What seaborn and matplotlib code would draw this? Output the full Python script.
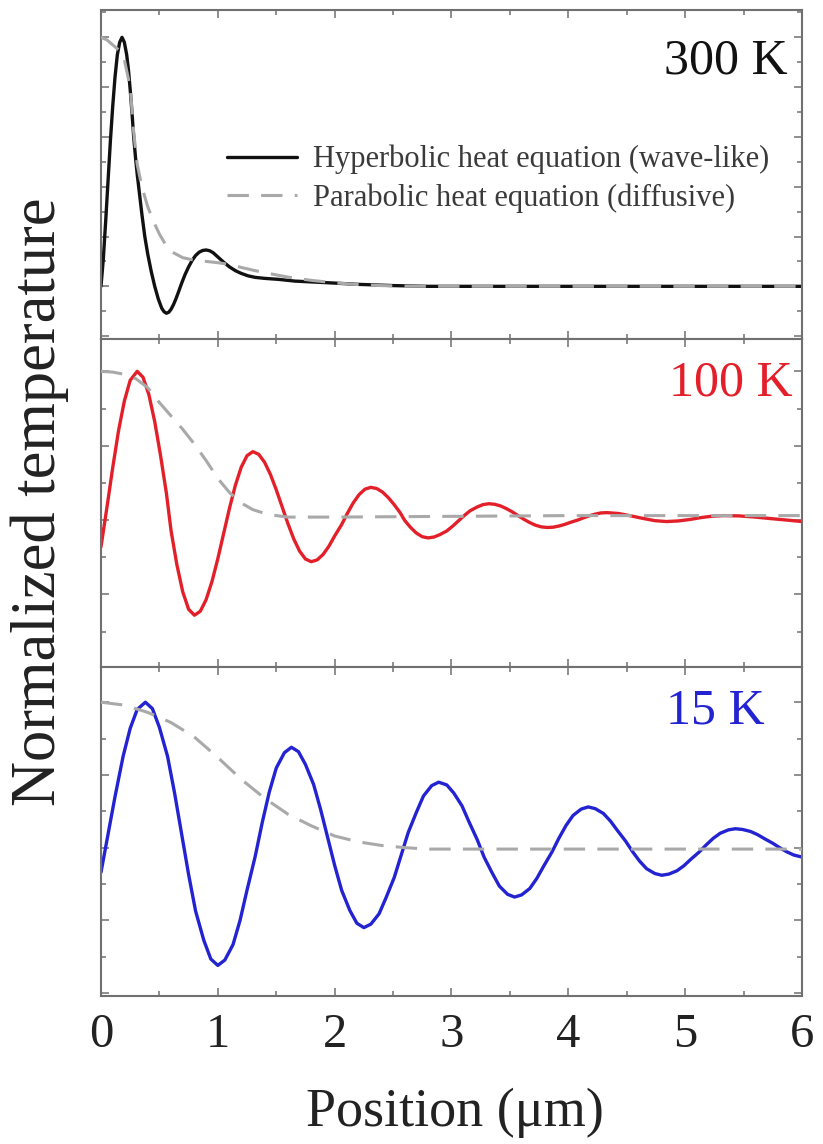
import matplotlib
matplotlib.use("Agg")
import matplotlib.pyplot as plt
import seaborn as sns
from matplotlib.ticker import MultipleLocator

# ---- 300 K ----
x_300_hyp = [0.00, 0.02, 0.04, 0.06, 0.08, 0.10, 0.12, 0.14, 0.16, 0.18, 0.20, 0.22, 0.235,
             0.25, 0.265, 0.28, 0.295, 0.31, 0.33, 0.35, 0.375, 0.40, 0.43, 0.46, 0.49, 0.52,
             0.54, 0.56, 0.58, 0.60, 0.62, 0.64, 0.66, 0.69, 0.72, 0.75, 0.78, 0.81, 0.84,
             0.87, 0.90, 0.93, 0.96, 1.00, 1.05, 1.10, 1.15, 1.20, 1.26, 1.32, 1.40, 1.52,
             1.66, 1.92, 2.20, 2.50, 2.80, 6.00]
y_300_hyp = [0.00, 0.11, 0.26, 0.42, 0.58, 0.72, 0.84, 0.93, 0.98, 1.00, 0.98, 0.93, 0.87,
             0.79, 0.70, 0.60, 0.52, 0.45, 0.37, 0.29, 0.20, 0.13, 0.06, 0.00, -0.05, -0.088,
             -0.102, -0.108, -0.104, -0.092, -0.074, -0.052, -0.027, 0.012, 0.048, 0.078, 0.104, 0.124, 0.137,
             0.144, 0.146, 0.143, 0.135, 0.118, 0.097, 0.078, 0.063, 0.052, 0.042, 0.036, 0.032, 0.028,
             0.021, 0.015, 0.008, 0.003, 0.00, 0.00]
x_300_par = [0.00, 0.05, 0.10, 0.15, 0.20, 0.25, 0.28, 0.31, 0.35, 0.40, 0.45, 0.50, 0.55, 0.60,
             0.70, 0.80, 0.90, 1.00, 1.10, 1.20, 1.30, 1.40, 1.60, 1.80, 2.00, 2.20, 2.40, 2.60,
             2.80, 6.00]
y_300_par = [1.00, 0.99, 0.97, 0.95, 0.91, 0.80, 0.62, 0.49, 0.40, 0.32, 0.26, 0.21, 0.17, 0.14,
             0.115, 0.105, 0.10, 0.095, 0.088, 0.076, 0.065, 0.055, 0.037, 0.024, 0.014, 0.007, 0.003,
             0.001, 0.00, 0.00]

# ---- 100 K ----
x_100_hyp = [0.00, 0.05, 0.10, 0.15, 0.20, 0.25, 0.31,
             0.36, 0.41, 0.46, 0.51, 0.56, 0.60, 0.65, 0.70, 0.75,
             0.80, 0.85, 0.90, 0.95, 1.00, 1.05, 1.10, 1.15, 1.20, 1.25,
             1.30, 1.35, 1.40, 1.45, 1.50, 1.55, 1.60, 1.65, 1.70, 1.75,
             1.80, 1.85, 1.90, 1.95, 2.00, 2.06, 2.11, 2.16, 2.21, 2.26,
             2.31, 2.36, 2.41, 2.46, 2.51, 2.56, 2.60, 2.65, 2.70, 2.75,
             2.80, 2.85, 2.90, 2.96, 3.01, 3.06, 3.11, 3.16, 3.22, 3.27,
             3.32, 3.37, 3.42, 3.47, 3.52, 3.57, 3.62, 3.67, 3.72, 3.77,
             3.82, 3.87, 3.92, 3.97, 4.02, 4.08, 4.13, 4.18, 4.23, 4.28,
             4.33, 4.43, 4.53, 4.64, 4.74,
             4.84, 4.94, 5.04, 5.13, 5.23,
             5.33, 5.46, 5.60, 5.73, 5.87, 6.00]
y_100_hyp = [-0.18, 0.08, 0.35, 0.60, 0.80, 0.94, 1.00,
             0.960, 0.843, 0.662, 0.433, 0.18, -0.073, -0.302, -0.483, -0.600,
             -0.64, -0.613, -0.535, -0.413, -0.260, -0.09, 0.080, 0.233, 0.355, 0.433,
             0.46, 0.442, 0.389, 0.307, 0.204, 0.09, -0.024, -0.127, -0.209, -0.262,
             -0.28, -0.268, -0.232, -0.177, -0.107, -0.03, 0.047, 0.117, 0.172, 0.208,
             0.22, 0.212, 0.188, 0.150, 0.103, 0.05, -0.003, -0.050, -0.088, -0.112,
             -0.12, -0.114, -0.098, -0.073, -0.041, -0.005, 0.031, 0.063, 0.088, 0.104,
             0.11, 0.106, 0.095, 0.077, 0.055, 0.03, 0.005, -0.017, -0.035, -0.046,
             -0.05, -0.048, -0.040, -0.029, -0.015, 0.0, 0.015, 0.029, 0.040, 0.048,
             0.05, 0.044, 0.029, 0.011, -0.004,
             -0.01, -0.006, 0.004, 0.016, 0.026,
             0.03, 0.028, 0.02, 0.01, 0.0, -0.01]
x_100_par = [0.0, 0.1, 0.2, 0.3, 0.4, 0.5, 0.6, 0.7, 0.8, 0.9, 1.0, 1.1, 1.2, 1.3, 1.4, 1.5,
             1.6, 2.0, 3.0, 4.0, 6.0]
y_100_par = [1.0, 0.995, 0.98, 0.95, 0.89, 0.79, 0.70, 0.61, 0.51, 0.40, 0.28, 0.185, 0.115, 0.07,
             0.045, 0.03, 0.02, 0.02, 0.025, 0.03, 0.03]

# ---- 15 K ----
x_15_hyp = [0.00, 0.06, 0.12, 0.19, 0.25, 0.31, 0.38,
            0.44, 0.50, 0.57, 0.63, 0.69, 0.75, 0.81, 0.88, 0.94,
            1.00, 1.06, 1.13, 1.19, 1.25, 1.32, 1.38, 1.44, 1.50, 1.57,
            1.63, 1.69, 1.75, 1.82, 1.88, 1.94, 2.00, 2.06, 2.13, 2.19,
            2.25, 2.31, 2.38, 2.44, 2.51, 2.57, 2.63, 2.70, 2.76, 2.83,
            2.89, 2.96, 3.02, 3.09, 3.15, 3.22, 3.28, 3.35, 3.41, 3.48,
            3.54, 3.60, 3.67, 3.73, 3.79, 3.86, 3.92, 3.98, 4.04, 4.11,
            4.17, 4.23, 4.30, 4.36, 4.42, 4.49, 4.55, 4.61, 4.67, 4.74,
            4.80, 4.86, 4.93, 4.99, 5.05, 5.12, 5.18, 5.24, 5.30, 5.37,
            5.43, 5.49, 5.56, 5.62, 5.68, 5.75, 5.81, 5.87, 5.93, 6.00]
y_15_hyp = [-0.17, 0.09, 0.35, 0.63, 0.82, 0.95, 1.00,
            0.956, 0.827, 0.627, 0.375, 0.095, -0.185, -0.437, -0.637, -0.766,
            -0.81, -0.773, -0.667, -0.501, -0.292, -0.06, 0.172, 0.381, 0.547, 0.653,
            0.69, 0.660, 0.572, 0.434, 0.262, 0.07, -0.122, -0.294, -0.432, -0.520,
            -0.55, -0.526, -0.455, -0.344, -0.205, -0.05, 0.105, 0.244, 0.355, 0.426,
            0.45, 0.431, 0.375, 0.287, 0.177, 0.055, -0.067, -0.177, -0.265, -0.321,
            -0.34, -0.325, -0.281, -0.212, -0.126, -0.03, 0.066, 0.152, 0.221, 0.265,
            0.28, 0.268, 0.235, 0.183, 0.118, 0.045, -0.028, -0.093, -0.145, -0.178,
            -0.19, -0.182, -0.159, -0.124, -0.079, -0.03, 0.019, 0.064, 0.099, 0.122,
            0.13, 0.125, 0.111, 0.089, 0.061, 0.03, -0.001, -0.029, -0.051, -0.065]
x_15_par = [0.0, 0.2, 0.4, 0.6, 0.8, 1.0, 1.2, 1.4, 1.6, 1.8, 2.0, 2.2, 2.4, 2.6, 2.8, 6.0]
y_15_par = [1.0, 0.98, 0.93, 0.86, 0.76, 0.62, 0.47, 0.34, 0.23, 0.15, 0.08, 0.04, 0.015, 0.0,
            -0.01, -0.01]

temps = ["300 K", "100 K", "15 K"]
temp_colors = ["#111111", "#e3202a", "#2323d2"]
legend_labels = ["Hyperbolic heat equation (wave-like)", "Parabolic heat equation (diffusive)"]

panels = [
    (x_300_hyp, y_300_hyp, x_300_par, y_300_par, (-0.21, 1.11), 0.2, 0.1, (0.980, 0.844)),
    (x_100_hyp, y_100_hyp, x_100_par, y_100_par, (-0.99, 1.22), 0.5, 0.25, (0.987, 0.864)),
    (x_15_hyp, y_15_hyp, x_15_par, y_15_par, (-1.02, 1.24), 0.5, 0.25, (0.947, 0.866)),
]

sns.set_style("ticks")
plt.rcParams["font.family"] = ["Liberation Serif", "DejaVu Serif"]
plt.rcParams["text.color"] = "#222222"

fig, axes = plt.subplots(3, 1, figsize=(8.23, 11.44), dpi=100, sharex=True)
fig.subplots_adjust(left=0.1227, right=0.9745, top=0.9913, bottom=0.1294, hspace=0)

frame = "#707070"
for i, (ax, p) in enumerate(zip(axes, panels)):
    xh, yh, xp, yp, ylim, major, minor, tpos = p
    sns.lineplot(x=xh, y=yh, ax=ax, color=temp_colors[i], lw=2.4, estimator=None,
                 sort=False, label=legend_labels[0], zorder=2)
    sns.lineplot(x=xp, y=yp, ax=ax, color="#a9a9a9", lw=2.2, estimator=None,
                 sort=False, label=legend_labels[1], linestyle=(0, (7, 4)), zorder=3)
    ax.set_xlim(0, 6)
    ax.set_ylim(*ylim)
    ax.xaxis.set_major_locator(MultipleLocator(1))
    ax.xaxis.set_minor_locator(MultipleLocator(0.5))
    ax.yaxis.set_major_locator(MultipleLocator(major))
    ax.yaxis.set_minor_locator(MultipleLocator(minor))
    ax.tick_params(which="both", direction="in", top=True, right=True, color=frame,
                   width=1.1, labelleft=False, labelsize=35, labelcolor="#222222", pad=12)
    ax.tick_params(which="major", length=6)
    ax.tick_params(which="minor", length=3.5)
    for s in ax.spines.values():
        s.set_color(frame)
        s.set_linewidth(1.5)
    ax.set_xlabel("")
    ax.set_ylabel("")
    ax.text(tpos[0], tpos[1], temps[i], transform=ax.transAxes, ha="right", va="center",
            fontsize=36, color=temp_colors[i])
    if i == 0:
        ax.legend(loc="upper left", bbox_to_anchor=(0.18, 0.59), frameon=False, fontsize=22,
                  handlelength=2.3, handletextpad=0.5, labelspacing=0.3, borderpad=0,
                  borderaxespad=0, labelcolor="#3a3a3a")
    else:
        ax.get_legend().remove()

fig.text(455 / 823, 1 - 1113 / 1144, "Position (μm)", ha="center", va="center", fontsize=39)
fig.text(40 / 823, 1 - 502 / 1144, "Normalized temperature", ha="center", va="center",
         rotation=90, fontsize=45)

fig.savefig("out.png", dpi=100)
